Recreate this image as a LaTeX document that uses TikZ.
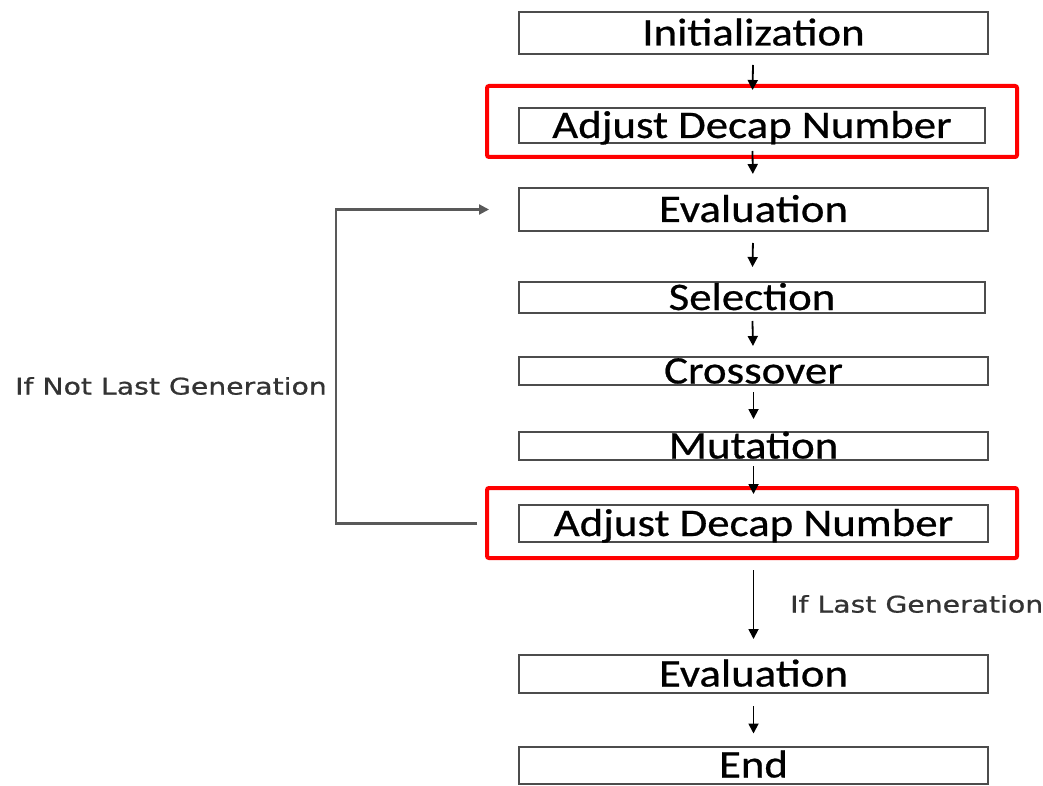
\documentclass[tikz,border=0pt]{standalone}
\usepackage{fontspec}
\setmainfont{Carlito}[FakeStretch=1.15, FakeBold=0.6]
\newfontfamily\notefont{DejaVu Sans}[FakeStretch=1.23, FakeBold=0.8]
\usetikzlibrary{arrows.meta}
\tikzstyle{pbox}=[rectangle, draw=black!70, line width=2pt, inner sep=0pt, text height=25pt, text depth=0pt, font=\fontsize{39}{39}\selectfont]
\tikzstyle{hilite}=[rectangle, draw=red, line width=4pt, rounded corners=2pt, inner sep=0pt]
\tikzstyle{flow}=[-{Triangle[length=10pt,width=10pt]}, line width=1.8pt, black]
\tikzstyle{note}=[font=\notefont\fontsize{23}{23}\selectfont, text=black!80, inner sep=0pt]

\begin{document}
\begin{tikzpicture}[x=1pt, y=-1pt]
\useasboundingbox (0,0) rectangle (1043,786);

\node[pbox, minimum width=469, minimum height=42] (init) at (753.5,33) {Initialization};
\node[pbox, minimum width=466, minimum height=35] (adj1) at (752,125.5) {Adjust Decap Number};
\node[hilite, minimum width=530, minimum height=71] (red1) at (752,121.5) {};
\node[pbox, minimum width=469, minimum height=43] (eval1) at (753.5,209.5) {Evaluation};
\node[pbox, minimum width=466, minimum height=31] (sel) at (752,297.5) {Selection};
\node[pbox, minimum width=469, minimum height=28] (cross) at (753.5,371) {Crossover};
\node[pbox, minimum width=469, minimum height=28] (mut) at (753.5,446) {Mutation};
\node[pbox, minimum width=469, minimum height=37] (adj2) at (753.5,523.5) {Adjust Decap Number};
\node[hilite, minimum width=530, minimum height=70] (red2) at (752,523) {};
\node[pbox, minimum width=469, minimum height=38] (eval2) at (753.5,674) {Evaluation};
\node[pbox, minimum width=469, minimum height=37] (end) at (753.5,765) {End};

\node[note, anchor=east] (notlast) at (327,386) {If Not Last Generation};
\node[note, anchor=west] (last) at (790,604) {If Last Generation};

\draw[flow, shorten <=10pt, shorten >=17pt] (init) -- (adj1);
\draw[flow, shorten <=7pt, shorten >=13pt] (adj1) -- (eval1);
\draw[flow, shorten <=11pt, shorten >=14pt] (eval1) -- (sel);
\draw[flow, shorten <=7pt, shorten >=10pt] (sel) -- (cross);
\draw[flow, shorten <=6pt, shorten >=12pt] (cross) -- (mut);
\draw[flow, shorten <=5pt, shorten >=10pt] (mut) -- (adj2);
\draw[flow, shorten <=27pt, shorten >=15pt] (adj2) -- (eval2);
\draw[flow, shorten <=12pt, shorten >=12pt] (eval2) -- (end);

\draw[flow, draw=black!65, line width=2.2pt, shorten <=41pt, shorten >=29pt] (adj2.west) -- ++(-182,0) |- (eval1.west);

\end{tikzpicture}
\end{document}
